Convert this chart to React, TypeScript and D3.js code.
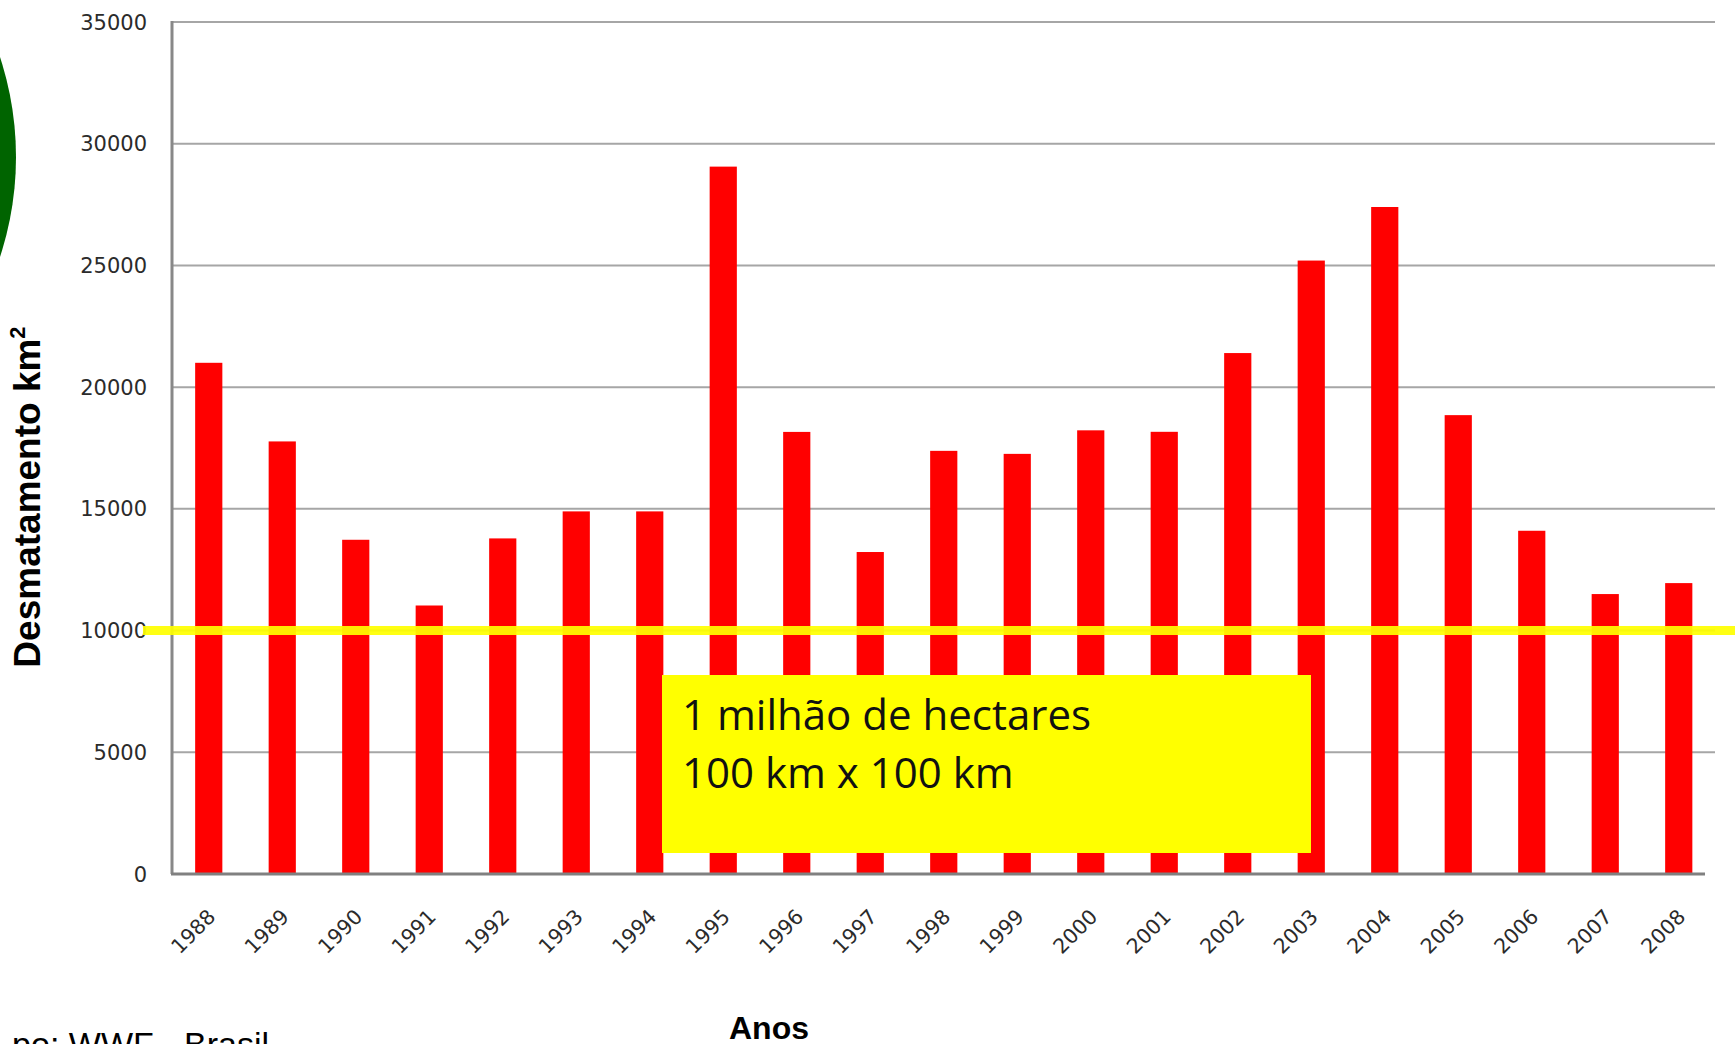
import React, { useEffect, useRef } from 'react';
import * as d3 from 'd3';

const years = ['1988', '1989', '1990', '1991', '1992', '1993', '1994', '1995', '1996', '1997', '1998',
  '1999', '2000', '2001', '2002', '2003', '2004', '2005', '2006', '2007', '2008'];
const desmatamento = [21000, 17770, 13730, 11030, 13786, 14896, 14896, 29059, 18161, 13227, 17383,
  17259, 18226, 18165, 21400, 25200, 27400, 18850, 14100, 11500, 11950];
const yTicks = [0, 5000, 10000, 15000, 20000, 25000, 30000, 35000];
const limite = 10000; // 100 km x 100 km
const caixaTexto = ['1 milhão de hectares', '100 km x 100 km'];

export default function App() {
  const ref = useRef<SVGSVGElement>(null);

  useEffect(() => {
    const W = 1735;
    const H = 1044;
    const margin = { top: 22, right: 20, bottom: 170, left: 172 };
    const svg = d3.select(ref.current);
    svg.selectAll('*').remove();
    svg.attr('width', W).attr('height', H);

    svg.append('rect').attr('width', W).attr('height', H).attr('fill', '#fff');

    const x = d3.scaleBand().domain(years).range([margin.left, 1715.5]).paddingInner(0.63).paddingOuter(0.315);
    const y = d3.scaleLinear().domain([0, 35000]).range([H - margin.bottom, margin.top]);

    // circulo verde no canto
    svg.append('circle').attr('cx', -304.5).attr('cy', 157).attr('r', 320.5).attr('fill', '#006400');

    // linhas de grade
    svg.append('g')
      .selectAll('line')
      .data(yTicks.filter((d) => d > 0))
      .enter().append('line')
      .attr('x1', margin.left).attr('x2', 1715)
      .attr('y1', (d) => y(d)).attr('y2', (d) => y(d))
      .attr('stroke', '#a6a6a6').attr('stroke-width', 2);

    // eixo y
    svg.append('line')
      .attr('x1', margin.left).attr('x2', margin.left)
      .attr('y1', y(35000) - 1).attr('y2', y(0))
      .attr('stroke', '#888').attr('stroke-width', 3);

    svg.append('g')
      .selectAll('text')
      .data(yTicks)
      .enter().append('text')
      .attr('x', 147).attr('y', (d) => y(d))
      .attr('dy', '0.36em')
      .attr('text-anchor', 'end')
      .attr('font-family', 'DejaVu Sans')
      .attr('font-size', 21)
      .attr('fill', '#2b2b2b')
      .text((d) => d);

    // barras
    svg.append('g')
      .selectAll('rect')
      .data(desmatamento)
      .enter().append('rect')
      .attr('x', (d, i) => x(years[i]))
      .attr('width', x.bandwidth())
      .attr('y', (d) => y(d))
      .attr('height', (d) => y(0) - y(d))
      .attr('fill', '#ff0000');

    // eixo x
    svg.append('line')
      .attr('x1', margin.left - 1).attr('x2', 1705)
      .attr('y1', y(0)).attr('y2', y(0))
      .attr('stroke', '#808080').attr('stroke-width', 3);

    svg.append('g')
      .selectAll('text')
      .data(years)
      .enter().append('text')
      .attr('transform', (d) => `translate(${x(d) + x.bandwidth() / 2 + 8},${y(0) + 44}) rotate(-45)`)
      .attr('text-anchor', 'end')
      .attr('font-family', 'DejaVu Sans')
      .attr('font-size', 20.5)
      .attr('fill', '#2b2b2b')
      .text((d) => d);

    // linha amarela em 10000
    svg.append('line')
      .attr('x1', 143).attr('x2', W)
      .attr('y1', y(limite)).attr('y2', y(limite))
      .attr('stroke', '#ffff00').attr('stroke-width', 9)
      .attr('opacity', 0.92);

    // caixa amarela
    const caixa = svg.append('g');
    caixa.append('rect')
      .attr('x', 662).attr('y', 675)
      .attr('width', 649).attr('height', 178)
      .attr('fill', '#ffff00');
    caixa.selectAll('text')
      .data(caixaTexto)
      .enter().append('text')
      .attr('x', 682)
      .attr('y', (d, i) => 730 + i * 58)
      .attr('font-family', 'Open Sans')
      .attr('font-size', 42)
      .attr('fill', '#111')
      .text((d) => d);

    // titulos
    const ytitle = svg.append('text')
      .attr('transform', 'translate(40,497) rotate(-90)')
      .attr('text-anchor', 'middle')
      .attr('font-family', 'Liberation Sans')
      .attr('font-weight', 'bold')
      .attr('font-size', 37)
      .attr('fill', '#000');
    ytitle.append('tspan').text('Desmatamento km');
    ytitle.append('tspan').attr('font-size', 22).attr('dy', -15).text('2');

    svg.append('text')
      .attr('x', 769).attr('y', 1039)
      .attr('text-anchor', 'middle')
      .attr('font-family', 'Liberation Sans')
      .attr('font-weight', 'bold')
      .attr('font-size', 32)
      .attr('fill', '#000')
      .text('Anos');

    svg.append('text')
      .attr('x', 269).attr('y', 1056)
      .attr('text-anchor', 'end')
      .attr('font-family', 'Liberation Sans')
      .attr('font-size', 34)
      .attr('fill', '#000')
      .text('po: WWF - Brasil');
  }, []);

  return (
    <svg ref={ref} style={{ position: 'absolute', left: 0, top: 0, display: 'block' }} />
  );
}
